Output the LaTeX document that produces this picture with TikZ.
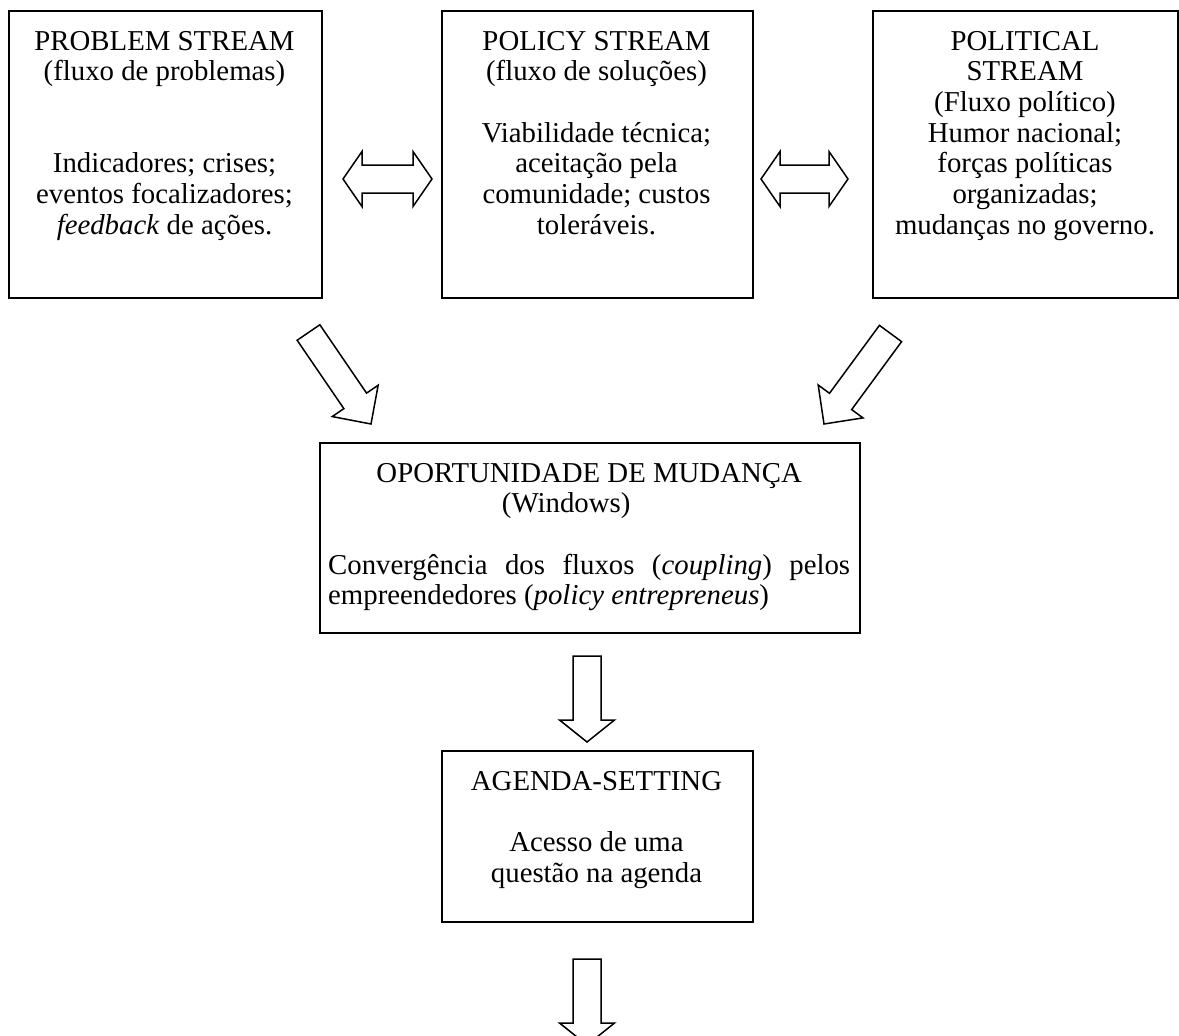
\documentclass[tikz,border=0pt]{standalone}
\usepackage{fontspec}
\setmainfont{Liberation Serif}
\usetikzlibrary{calc}
\newcommand\blockarrow[6]{% name, tail, tip, shaft half, head half, head length
  \coordinate (#1-n) at ($(#3)!#6!(#2)$);
  \draw[arrowline] ($(#2)!#4!90:(#3)$) -- ($(#1-n)!#4!90:(#3)$) -- ($(#1-n)!#5!90:(#3)$) -- (#3)
    -- ($(#1-n)!#5!-90:(#3)$) -- ($(#1-n)!#4!-90:(#3)$) -- ($(#2)!#4!-90:(#3)$) -- cycle;}
\newcommand\dblarrow[6]{% name, tip a, tip b, shaft half, head half, head length
  \coordinate (#1-a) at ($(#2)!#6!(#3)$);
  \coordinate (#1-b) at ($(#3)!#6!(#2)$);
  \draw[arrowline] (#2) -- ($(#1-a)!#5!90:(#3)$) -- ($(#1-a)!#4!90:(#3)$) -- ($(#1-b)!#4!-90:(#2)$)
    -- ($(#1-b)!#5!-90:(#2)$) -- (#3) -- ($(#1-b)!#5!90:(#2)$) -- ($(#1-b)!#4!90:(#2)$)
    -- ($(#1-a)!#4!-90:(#3)$) -- ($(#1-a)!#5!-90:(#3)$) -- cycle;}
\begin{document}
\begin{tikzpicture}[x=1pt,y=-1pt,
  box/.style={draw, line width=1.5pt, inner sep=0pt, anchor=north west},
  txt/.style={inner sep=0pt, align=center, anchor=base, font=\fontsize{28.8}{30.7}\selectfont},
  arrowline/.style={line width=1.5pt, line join=miter}]
\useasboundingbox (0,0) rectangle (1179,1036);
% boxes
\node[box, minimum width=313pt, minimum height=287pt] (prob) at (8,10) {};
\node[box, minimum width=311pt, minimum height=287pt] (pol) at (441,10) {};
\node[box, minimum width=305pt, minimum height=287pt] (polit) at (872,10) {};
\node[box, minimum width=540pt, minimum height=190pt] (opp) at (319,442) {};
\node[box, minimum width=311pt, minimum height=171pt] (agenda) at (441,750) {};
% texts (anchor base = baseline of the last line)
\node[txt] (probt) at (164.5,234.2) {PROBLEM STREAM\\(fluxo de problemas)\\[61.4pt]Indicadores; crises;\\eventos focalizadores;\\\textit{feedback} de ações.};
\node[txt] (polt) at (596.5,234.2) {POLICY STREAM\\(fluxo de soluções)\\[30.7pt]Viabilidade técnica;\\aceitação pela\\comunidade; custos\\toleráveis.};
\node[txt] (politt) at (1025,234.2) {POLITICAL\\STREAM\\(Fluxo político)\\Humor nacional;\\forças políticas\\organizadas;\\mudanças no governo.};
\node[txt, align=left, anchor=base west] (oppt) at (328,604.8) {\makebox[522pt]{OPORTUNIDADE DE MUDANÇA}\\\makebox[476pt]{(Windows)}\\[30.7pt]\makebox[522pt][s]{Convergência dos fluxos (\textit{coupling}) pelos}\\empreendedores (\textit{policy entrepreneus})};
\node[txt] (agendat) at (596.5,882.1) {AGENDA-SETTING\\[30.7pt]Acesso de uma\\questão na agenda};
% arrow end points
\coordinate (d1a) at (343,179); \coordinate (d1b) at (432,179);
\coordinate (d2a) at (761,179); \coordinate (d2b) at (848,179);
\coordinate (l1) at (308.5,332.5); \coordinate (l2) at (371,424);
\coordinate (r1) at (890.5,333.5); \coordinate (r2) at (824,424);
\coordinate (v1) at (587,656); \coordinate (v2) at (587,742);
\coordinate (w1) at (587,959); \coordinate (w2) at (587,1045);
\dblarrow{da}{d1a}{d1b}{14pt}{27.5pt}{19pt}
\dblarrow{db}{d2a}{d2b}{14pt}{27.5pt}{19pt}
\blockarrow{la}{l1}{l2}{13.75pt}{27.8pt}{28pt}
\blockarrow{ra}{r1}{r2}{13.75pt}{27.8pt}{28pt}
\blockarrow{va}{v1}{v2}{14pt}{27.5pt}{22pt}
\blockarrow{wa}{w1}{w2}{14pt}{27.5pt}{22pt}
\end{tikzpicture}
\end{document}
